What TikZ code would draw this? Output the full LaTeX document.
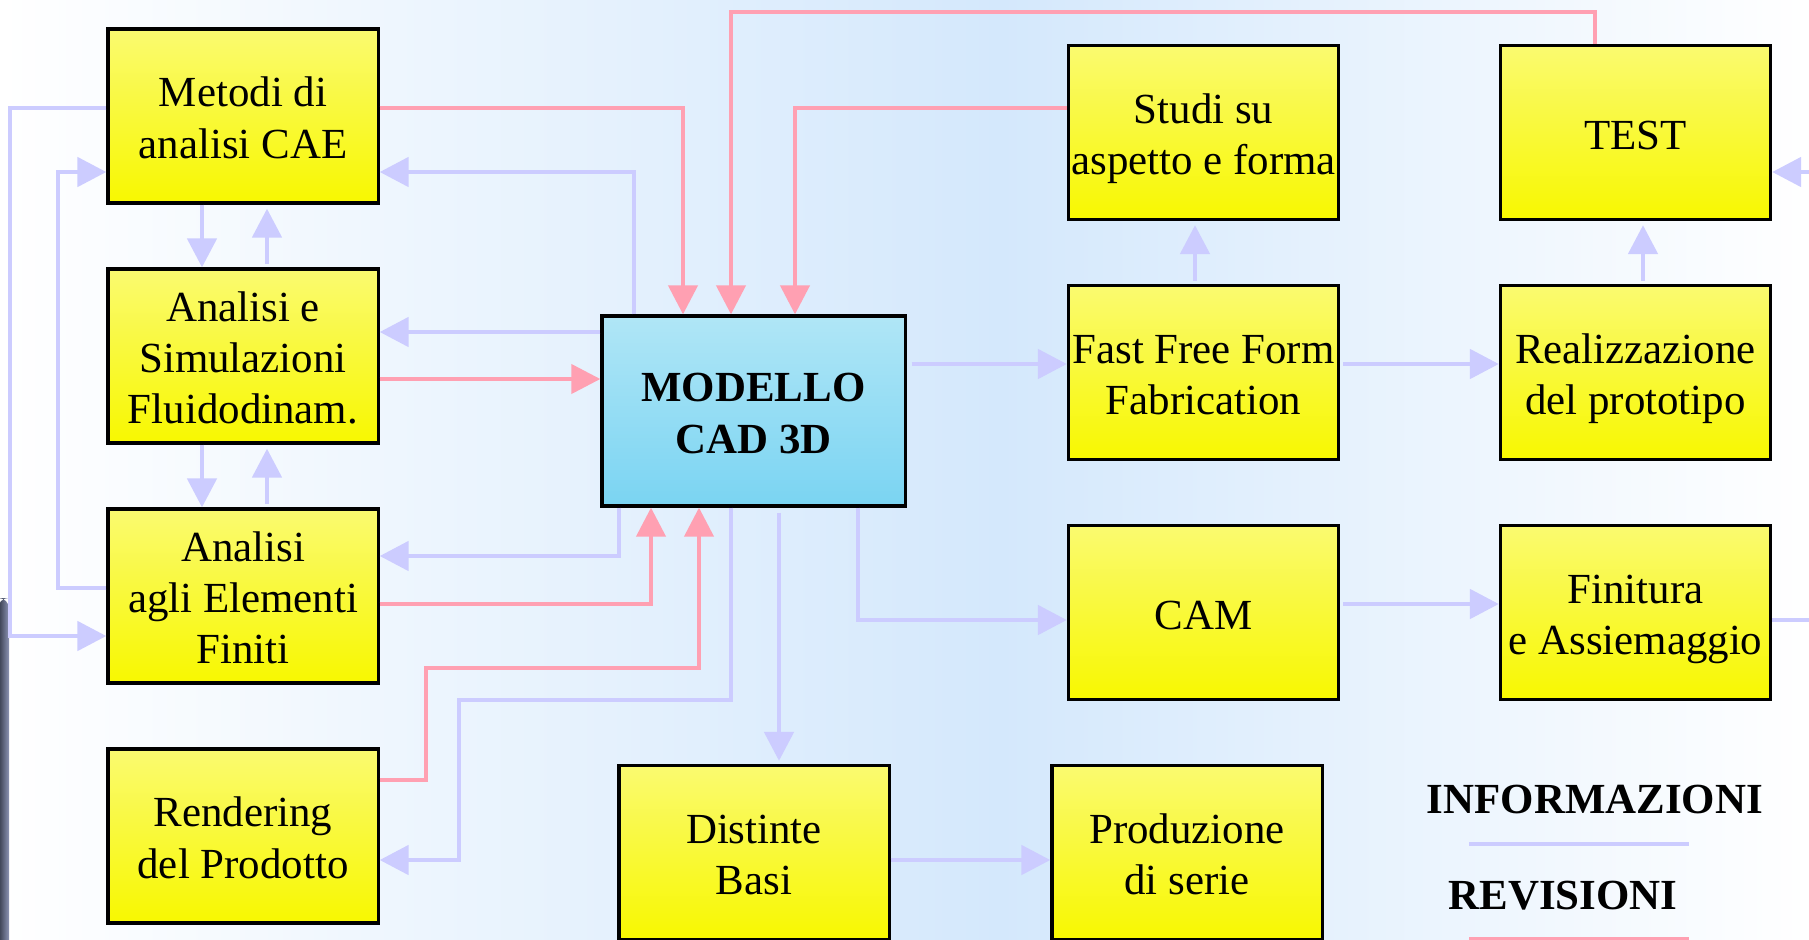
\documentclass[tikz,border=0pt]{standalone}
\usepackage{fontspec}
\setmainfont{Liberation Serif}
\usetikzlibrary{arrows.meta,calc}
\definecolor{infoc}{RGB}{204,204,255}
\definecolor{revc}{RGB}{255,160,178}
\definecolor{bgblue}{RGB}{212,232,252}
\definecolor{ytop}{RGB}{250,250,112}
\definecolor{ybot}{RGB}{248,248,0}
\definecolor{ctop}{RGB}{176,230,246}
\definecolor{cbot}{RGB}{122,212,242}
\newcommand\tstr{\rule{0pt}{12.6pt}}
\newcommand\bstr{\rule[-3.2pt]{0pt}{3.2pt}}
\tikzset{
  box/.style={draw=black, line width=0.9pt, top color=ytop, bottom color=ybot,
    minimum width=2.7cm, minimum height=1.74cm, inner sep=0pt, align=center,
    font=\fontsize{12.2}{14.6}\selectfont},
  cadbox/.style={box, top color=ctop, bottom color=cbot, minimum width=3.03cm,
    minimum height=1.9cm, font=\fontsize{12.2}{14.8}\selectfont\bfseries},
  infoline/.style={draw=infoc, line width=1.4pt},
  revline/.style={draw=revc, line width=1.2pt},
  info/.style={infoline, -{Triangle[length=2.9mm,width=2.9mm]}},
  rev/.style={revline, -{Triangle[length=2.9mm,width=2.9mm]}},
  legend/.style={font=\fontsize{12.2}{14.5}\selectfont\bfseries, inner sep=0pt}
}
\begin{document}
\begin{tikzpicture}[x=0.01cm,y=-0.01cm]
\useasboundingbox (0,0) rectangle (1809,939);
\clip (0,0) rectangle (1809,939);
% background
\shade[left color=white, right color=bgblue] (0,0) rectangle (1000,939);
\shade[left color=bgblue, right color=white] (999,0) rectangle (1809,939);
% dark bar at left edge
\shade[left color={rgb,255:red,50;green,56;blue,72}, right color={rgb,255:red,140;green,148;blue,180}, rounded corners=3pt] (-2,598) rectangle (9,960);

% boxes
\node[box] (cae) at (243,116) {\tstr Metodi di\\analisi CAE\bstr};
\node[box] (cfd) at (243,356) {\tstr Analisi e\\Simulazioni\\Fluidodinam.\bstr};
\node[box] (fem) at (243,596) {\tstr Analisi\\agli Elementi\\Finiti\bstr};
\node[box] (rend) at (243,836) {\tstr Rendering\\del Prodotto\bstr};
\node[cadbox] (cad) at (753.5,411) {\tstr MODELLO\\CAD 3D\bstr};
\node[box] (dist) at (754,852.5) {\tstr Distinte\\Basi\bstr};
\node[box] (prod) at (1187,852.5) {\tstr Produzione\\di serie\bstr};
\node[box] (studi) at (1203.5,132.5) {\tstr Studi su\\aspetto e forma\bstr};
\node[box] (test) at (1635.5,132.5) {\tstr TEST\bstr};
\node[box] (fff) at (1203.5,372.5) {\tstr Fast Free Form\\Fabrication\bstr};
\node[box] (real) at (1635.5,372.5) {\tstr Realizzazione\\del prototipo\bstr};
\node[box] (cam) at (1203.5,612.5) {\tstr CAM\bstr};
\node[box] (fin) at (1635.5,612.5) {\tstr Finitura\\e Assiemaggio\bstr};

% free ends at the right edge
\coordinate (rtop) at (1815,172);
\coordinate (rfin) at (1815,620);

% left loops
\draw[info] (cae.west |- 0,108) -- (10,108) -- (10,636) -- (fem.west |- 0,636);
\draw[info] (fem.west |- 0,588) -- (58,588) -- (58,172) -- (cae.west |- 0,172);
% between left boxes
\draw[info] (cae.south -| 202,0) -- (cfd.north -| 202,0);
\draw[info, shorten >=0.04cm, shorten <=0.03cm] (cfd.north -| 267,0) -- (cae.south -| 267,0);
\draw[info] (cfd.south -| 202,0) -- (fem.north -| 202,0);
\draw[info, shorten >=0.04cm, shorten <=0.03cm] (fem.north -| 267,0) -- (cfd.south -| 267,0);

% revisions into CAD top
\draw[rev] (cae.east |- 0,108) -- (683,108) -- (cad.north -| 683,0);
\draw[rev] (test.north -| 1595,0) -- (1595,12) -- (731,12) -- (cad.north -| 731,0);
\draw[rev] (studi.west |- 0,108) -- (795,108) -- (cad.north -| 795,0);
% info from CAD to left boxes
\draw[info] (cad.north -| 634,0) -- (634,172) -- (cae.east |- 0,172);
\draw[info] (cad.west |- 0,332) -- (cfd.east |- 0,332);
\draw[rev] (cfd.east |- 0,379) -- (cad.west |- 0,379);
\draw[info] (cad.south -| 619,0) -- (619,556) -- (fem.east |- 0,556);
\draw[rev] (fem.east |- 0,604) -- (651,604) -- (cad.south -| 651,0);
\draw[rev] (rend.east |- 0,780) -- (426,780) -- (426,668) -- (699,668) -- (cad.south -| 699,0);
\draw[info] (cad.south -| 731,0) -- (731,700) -- (459,700) -- (459,860) -- (rend.east |- 0,860);
\draw[info, shorten <=0.05cm, shorten >=0.03cm] (cad.south -| 779,0) -- (dist.north -| 779,0);
\draw[info] (cad.south -| 858,0) -- (858,620) -- (cam.west |- 0,620);
\draw[info] (dist.east |- 0,860) -- (prod.west |- 0,860);

% right part
\draw[info, shorten <=0.05cm] (cad.east |- 0,364) -- (fff.west |- 0,364);
\draw[info, shorten <=0.03cm] (fff.east |- 0,364) -- (real.west |- 0,364);
\draw[info, shorten <=0.03cm, shorten >=0.04cm] (fff.north -| 1195,0) -- (studi.south -| 1195,0);
\draw[info, shorten <=0.03cm, shorten >=0.04cm] (real.north -| 1643,0) -- (test.south -| 1643,0);
\draw[info, shorten <=0.03cm] (cam.east |- 0,604) -- (fin.west |- 0,604);
\draw[infoline] (fin.east |- 0,620) -- (rfin);
\draw[info] (rtop) -- (test.east |- 0,172);

% legend
\node[legend] (linf) at (1595,799) {INFORMAZIONI};
\node[legend] (lrev) at (1563,896) {REVISIONI};
\coordinate (li1) at (1469,844);
\coordinate (li2) at (1689,844);
\coordinate (lr1) at (1469,939);
\coordinate (lr2) at (1689,939);
\draw[infoline] (li1) -- (li2);
\draw[revline] (lr1) -- (lr2);
\end{tikzpicture}
\end{document}
